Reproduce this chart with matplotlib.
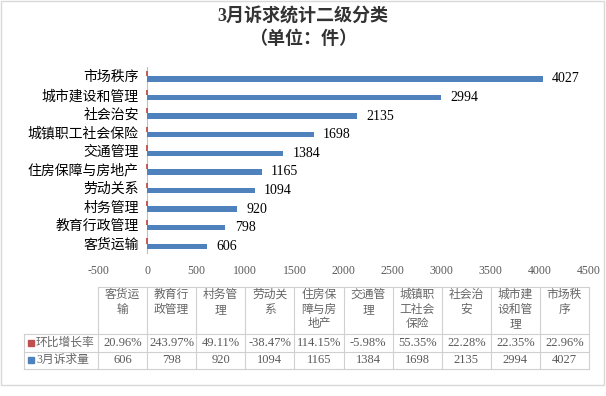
import numpy as np
import matplotlib
matplotlib.use('Agg')
import matplotlib.pyplot as plt
from matplotlib.patches import Rectangle

plt.rcParams['font.family'] = ['Liberation Serif', 'Noto Sans CJK SC']

# Datos del grafico
categorias = ['客货运输', '教育行政管理', '村务管理', '劳动关系', '住房保障与房地产',
              '交通管理', '城镇职工社会保险', '社会治安', '城市建设和管理', '市场秩序']
cantidades = [606, 798, 920, 1094, 1165, 1384, 1698, 2135, 2994, 4027]
crecimiento = [20.96, 243.97, 49.11, -38.47, 114.15, -5.98, 55.35, 22.28, 22.35, 22.96]  # en %
serie_cant = '3月诉求量'
serie_crec = '环比增长率'
ticks_x = [-500, 0, 500, 1000, 1500, 2000, 2500, 3000, 3500, 4000, 4500]

AZUL = '#4F81BD'
ROJO = '#C0504D'
GRIS = '#595959'
W, H = 606, 396

fig = plt.figure(figsize=(W / 100, H / 100), dpi=100)

# Ejes principales (coordenadas en pixeles -> fraccion)
ax = fig.add_axes([98 / W, 1 - 253 / H, 491 / W, 186 / H])
y = np.arange(len(categorias))
alto = 0.28
ax.barh(y + 0.14, np.array(crecimiento) / 100, height=alto, color=ROJO,
        edgecolor=ROJO, linewidth=1.3, zorder=3)
ax.barh(y - 0.14, cantidades, height=alto, color=AZUL, zorder=3)

for yi, v in zip(y, cantidades):
    ax.text(v + 95, yi - 0.14, str(v), va='center', ha='left', fontsize=10, color='black')

ax.set_xlim(-500, 4500)
ax.set_ylim(-0.5, len(categorias) - 0.5)
ax.set_xticks(ticks_x)
ax.set_xticklabels([str(t) for t in ticks_x], fontsize=8.5, color=GRIS)
ax.set_yticks(y)
ax.set_yticklabels(categorias, fontsize=8.5, color='#666666')
ax.tick_params(length=0)
ax.tick_params(axis='x', pad=9)
ax.tick_params(axis='y', pad=6)
for s in ['top', 'right', 'bottom']:
    ax.spines[s].set_visible(False)
ax.spines['left'].set_position(('data', 0))
ax.spines['left'].set_color('#bfbfbf')
ax.spines['left'].set_linewidth(0.8)

# Titulo
fig.text(0.5, 1 - 17 / H, '3月诉求统计二级分类', ha='center', va='center',
         fontsize=13, fontweight='bold', color='#333333')
fig.text(0.5, 1 - 39 / H, '（单位：件）', ha='center', va='center',
         fontsize=13, fontweight='bold', color='#333333')

# Tabla de datos (dibujada en pixeles)
tb = fig.add_axes([0, 0, 1, 1], facecolor='none')
tb.set_xlim(0, W)
tb.set_ylim(H, 0)
tb.axis('off')

bordes = np.linspace(98, 589, len(categorias) + 1)
y_top, y_head, y_r1, y_r2 = 287, 334, 351.5, 369
x_lab = 24
lc = '#d0d0d0'
tb.plot([bordes[0], bordes[-1]], [y_top, y_top], color=lc, lw=0.8)
for yy in [y_head, y_r1, y_r2]:
    tb.plot([x_lab, bordes[-1]], [yy, yy], color=lc, lw=0.8)
for xx in bordes:
    tb.plot([xx, xx], [y_top, y_r2], color=lc, lw=0.8)
tb.plot([x_lab, x_lab], [y_head, y_r2], color=lc, lw=0.8)

for i, c in enumerate(categorias):
    cx = (bordes[i] + bordes[i + 1]) / 2
    partes = '\n'.join(c[k:k + 3] for k in range(0, len(c), 3))
    tb.text(cx, y_top + 2, partes, ha='center', va='top', fontsize=8.5,
            color='#666666', linespacing=1.3)
    tb.text(cx, (y_head + y_r1) / 2, f'{crecimiento[i]:.2f}%', ha='center',
            va='center', fontsize=9, color=GRIS)
    tb.text(cx, (y_r1 + y_r2) / 2, str(cantidades[i]), ha='center',
            va='center', fontsize=9, color=GRIS)

for (yy0, yy1), col, nom in [((y_head, y_r1), ROJO, serie_crec), ((y_r1, y_r2), AZUL, serie_cant)]:
    ym = (yy0 + yy1) / 2
    tb.add_patch(Rectangle((28, ym - 3), 6, 6, color=col))
    tb.text(36, ym, nom, ha='left', va='center', fontsize=8.5, color='#666666')

# Borde del grafico
tb.add_patch(Rectangle((0.5, 0.5), 603.5, 384, fill=False, edgecolor='#d9d9d9', lw=1))

fig.savefig('out.png', dpi=100)
